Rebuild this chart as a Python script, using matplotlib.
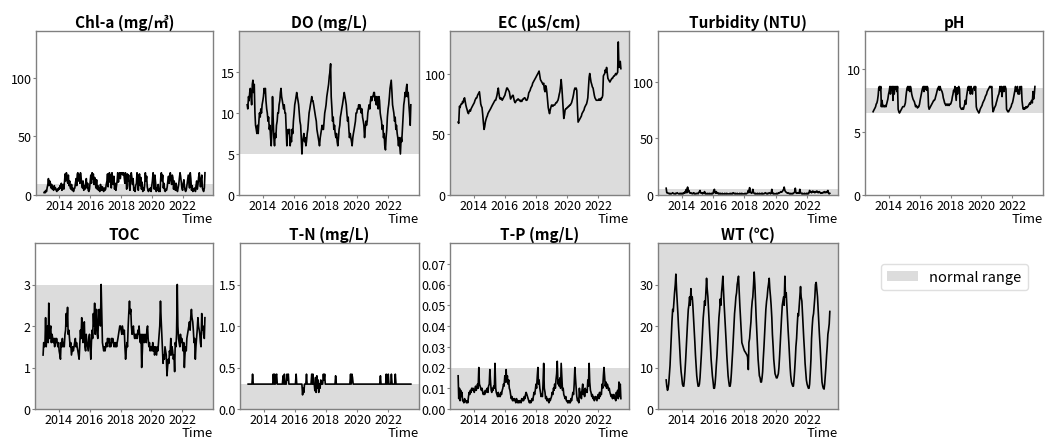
import numpy as np
import pandas as pd
import matplotlib
matplotlib.use("Agg")
import matplotlib.pyplot as plt
import matplotlib.dates as mdates
from matplotlib.patches import Patch
from matplotlib.ticker import FormatStrFormatter

plt.rcParams['font.family'] = ['Noto Sans CJK KR', 'DejaVu Sans']

START = '2013-01-01'  # semi-monthly samples (1st and 15th of each month)

chla = [
    2,3,2,4,3,6,9,14,8,12,10,6,9,5,7,4,8,5,6,4,3,5,4,6,
    5,8,6,10,4,7,9,5,11,18,12,19,15,10,17,8,12,6,5,9,4,6,3,5,
    6,10,14,8,18,19,12,17,10,19,14,9,6,12,4,8,5,10,14,6,10,4,3,5,
    12,17,10,19,14,18,9,15,11,6,13,5,8,4,6,3,9,5,4,7,5,3,6,4,
    5,9,12,18,7,15,19,11,17,6,19,13,9,16,5,10,4,8,12,19,11,17,19,14,
    19,18,19,17,19,16,10,19,14,5,18,12,17,8,4,12,19,15,9,14,4,6,3,8,
    10,19,16,4,12,18,8,15,5,11,3,6,4,8,19,12,16,7,4,3,5,4,6,3,
    8,12,19,14,5,17,10,3,6,4,9,3,5,3,15,19,12,17,6,10,4,3,5,4,
    7,12,16,10,14,19,13,9,17,15,5,12,8,4,10,5,3,6,9,14,19,16,11,6,
    4,10,13,7,4,3,5,9,13,17,10,6,19,14,4,8,3,5,4,6,3,8,12,5,
    9,15,19,12,7,13,17,6,4,3,6,19,
]

do = [
    11,10.5,12,11.5,12.5,13,12,11,13.5,14,12.5,13.5,10,8.5,8,7.5,8.5,7.5,9,10,9.5,10.5,10,11,
    11.5,12,13,12.5,13,11.5,10.5,10,9,9.5,8,8.5,7,6,8,12,9,7,6,7.5,7,8.5,9,10,
    10,11,11.5,12.5,13,12,11.5,11,10.5,11,10,10,8,6,7.5,8,7.5,8,6,7,6.5,8,7.5,9,
    10,11,11.5,12,12.5,12,11.5,11,10,9,8.5,7,5,6.5,7,7.5,6.5,7,6,6.5,7.5,8,9,10,
    10.5,11,11.5,12,11.5,11.5,11,10.5,10,9.5,9,8,7.5,7,6.5,6,7,7.5,8,8.5,8,8,9,10,
    10.5,11,12,12.5,13,13.5,14.5,15,16,12,10.5,9,9.5,8,8.5,7.5,7,7.5,6.5,6,7,8,8.5,9.5,
    10,10.5,11,11.5,12,12.5,12,11.5,11,10,9,9.5,8,7,7.5,7,6.5,6,7,7.5,8,8.5,9,10,
    10,10.5,10.5,11,10.5,11,10.5,10,10.5,9.5,9,8.5,7,8,9,8.5,9,10,10.5,11,10.5,11.5,12,11.5,
    12,12,12.5,12.5,11.5,12,11,12,11,10.5,12,11.5,10,9.5,9,8,8.5,7,7.5,6,5.5,7,8,9.5,
    10.5,11,12,13,13.5,14,12.5,11,10.5,10,9,9.5,8,8.5,7.5,7,6,7,6,5,7,6.5,8,9.5,
    11,11.5,12.5,12,13,13.5,12,12.5,11,10,8.5,11,
]

ec = [
    60,59,73,72,74,75,75,77,76,79,80,77,74,72,70,68,67,69,70,69,71,72,73,74,
    75,76,78,79,80,80,82,83,84,85,80,75,73,72,66,60,54,56,60,62,64,65,67,68,
    69,70,71,72,73,74,75,76,77,78,78,80,82,85,88,84,80,79,80,79,78,79,80,81,
    82,84,86,88,88,87,86,85,82,79,80,81,82,82,79,77,76,77,78,78,79,79,78,78,
    77,78,77,78,79,79,80,80,79,78,78,79,81,84,85,86,88,89,90,92,93,94,95,96,
    97,98,99,100,101,102,98,95,94,93,92,91,92,87,85,90,88,84,78,72,69,67,70,72,
    74,74,73,74,74,74,75,76,76,77,78,80,83,85,90,95,88,80,72,63,66,70,71,71,
    72,72,73,73,74,74,75,76,78,80,83,86,88,87,88,86,70,60,61,62,63,64,65,67,
    68,69,70,72,73,74,75,77,80,88,97,100,96,93,91,89,88,85,82,80,79,78,78,78,
    78,79,78,79,78,80,80,82,98,99,100,103,101,105,100,96,95,94,93,94,95,96,96,97,
    98,98,99,100,99,100,101,126,105,108,110,104,
]

turbidity = [
    6,2,2,1.5,1.5,1,1.5,1,1,1.5,2,1.5,1,1,1.5,1,1.5,2,1.5,1,1,1.5,1,1.5,
    1,1.5,1,2,1.5,3,2,5,2,7,3,4,2,1.5,2,1.5,1,1.5,2,1,1.5,1,1,1.5,
    1.5,1,2,3,4,2,1.5,2,1,2,1.5,3,1,1.5,1,1,1.5,1,1,1.5,1,1,1.5,1,
    1.5,4,5,2,1.5,3,1.5,2,1,1.5,1,1.5,1,1,1.5,1,1,1,1.5,1,1,1.5,1,1,
    1,1,1.5,1,1,1.5,1,2,1.5,1,1.5,1,1,1.5,1,1,1,1.5,1,1,1.5,1,1,1,
    1,1.5,1,1,1.5,2,4,2,6.5,3,2,1.5,2,5,2,1.5,1,1.5,1,1,1.5,1,1,1.5,
    1,1,1.5,1,1.5,1,1,1.5,2,1.5,1,1.5,1,1.5,2,1.5,1,1.5,5,2,1,1.5,1,1,
    1,1.5,1,1,2,1.5,2,2.5,3,2.5,3,4,5,7,4,3,2.5,2,1.5,2,1.5,1,1.5,1,
    1,1.5,1,1.5,2,2.5,6,2,1.5,2,1.5,2,1.5,5,2,1.5,1,1.5,1,1,1.5,1,1,1.5,
    1,1.5,1,2,4,2.5,3,2,3,3.5,2.5,3,2,3,2.5,3.5,3,2,2.5,3,2,1.5,2,1.5,
    2,2.5,2,3,2.5,2,3,2.5,4,1.5,1,1.5,
]

ph = [
    6.6,6.7,6.8,6.9,7.0,7.2,7.3,7.5,7.9,8.5,8.6,8.3,8.6,7.0,7.5,7.0,7.1,7.0,7.0,7.1,7.0,7.2,7.4,7.6,
    8.0,8.2,8.6,8.0,8.6,8.3,8.6,7.5,8.6,8.0,8.6,8.4,8.6,8.2,8.6,6.8,6.6,6.5,6.6,6.7,6.8,6.9,7.0,7.0,
    7.0,7.1,7.3,7.8,8.2,8.5,8.6,8.3,8.6,8.2,8.6,8.4,8.0,7.8,7.6,7.5,7.4,7.2,7.0,7.1,7.0,6.9,7.0,7.0,
    7.2,7.5,7.8,8.0,8.3,8.5,8.6,8.2,8.6,8.4,8.6,8.3,8.6,8.5,7.0,6.8,6.9,7.0,7.1,7.2,7.3,7.4,7.5,7.5,
    7.6,7.8,8.0,8.2,8.4,8.5,8.6,8.3,8.6,8.4,8.3,8.2,8.0,7.7,7.5,7.3,7.2,7.1,7.2,7.2,7.1,7.2,7.1,7.2,
    7.2,7.3,7.5,7.8,8.0,8.3,8.2,8.6,8.0,7.5,8.5,8.0,8.5,8.6,8.4,7.0,6.9,6.8,6.8,6.9,6.8,7.0,7.2,7.5,
    7.2,7.8,8.2,8.5,8.6,8.3,8.6,8.0,8.6,8.2,8.0,8.4,8.5,8.6,8.3,8.6,7.0,6.8,6.7,6.6,6.5,6.6,6.8,6.9,
    7.0,7.1,7.3,7.4,7.5,7.6,7.8,7.9,8.0,8.2,8.3,8.4,8.5,8.6,8.6,8.5,8.6,7.2,6.6,6.7,6.9,7.0,7.1,7.3,
    7.5,7.7,7.9,8.0,8.3,8.6,8.2,8.6,7.8,8.4,8.6,8.2,8.6,8.6,8.4,6.8,6.7,6.6,6.6,6.7,6.8,6.9,7.0,7.2,
    7.3,7.5,7.8,8.0,8.3,8.6,8.2,8.4,8.6,8.0,8.3,8.0,8.6,8.4,8.6,7.5,7.0,6.8,6.9,6.8,6.9,7.0,6.9,7.0,
    7.0,7.1,7.2,7.3,7.2,7.4,7.5,7.3,8.2,7.6,8.0,8.6,
]

toc = [
    1.3,1.6,1.5,1.6,2.2,1.5,1.8,2.0,1.6,2.55,1.7,1.9,2.0,1.6,1.8,1.7,1.6,1.7,1.5,1.7,1.6,1.7,1.6,1.5,
    1.6,1.4,1.3,1.2,1.6,1.5,1.7,1.5,1.6,1.5,1.8,1.9,2.3,2.0,2.45,1.8,1.9,1.7,1.5,1.6,1.3,1.4,1.5,1.4,
    1.5,1.6,1.7,1.5,1.6,1.5,1.4,1.3,1.2,1.5,1.9,1.7,2.2,1.8,1.6,2.0,2.1,1.5,1.4,1.8,1.6,1.5,1.4,1.7,
    1.8,1.5,1.2,1.6,1.9,1.7,2.3,2.0,2.55,1.8,2.1,2.4,1.8,1.7,2.2,2.4,2.3,2.0,3.0,2.4,1.6,1.5,1.4,1.5,
    1.4,1.5,1.6,1.5,1.7,1.6,1.7,1.5,1.6,1.5,1.7,1.6,1.7,1.6,1.5,1.6,1.5,1.6,1.5,1.6,1.7,1.8,1.9,2.0,
    2.0,1.9,1.8,2.0,1.9,1.8,1.9,1.5,1.2,1.4,1.6,1.5,2.0,2.3,2.6,2.3,2.4,2.0,1.8,1.9,2.0,1.8,1.7,1.8,
    1.7,1.8,1.7,1.9,1.8,2.0,1.7,1.6,1.8,1.0,1.4,1.8,1.7,1.6,1.8,1.7,1.6,1.9,2.0,1.7,1.5,1.6,1.4,1.5,
    1.5,1.4,1.6,1.4,1.5,1.3,1.5,1.4,1.3,1.5,1.4,1.6,1.8,2.0,2.6,2.2,1.8,1.5,1.1,1.3,1.2,1.5,1.4,1.3,
    0.8,1.0,1.2,1.1,1.4,1.3,1.7,1.3,1.5,1.4,1.2,1.3,0.9,1.6,1.5,1.8,3.0,2.0,1.7,1.6,1.5,1.8,1.6,1.7,
    1.6,1.4,1.6,1.0,1.3,1.5,1.4,1.7,1.8,1.9,2.0,2.1,1.9,2.2,2.4,2.2,2.1,1.9,1.6,1.7,1.2,1.5,1.7,1.9,
    2.2,2.0,1.9,1.8,1.6,1.5,2.3,1.9,2.0,1.8,1.7,2.2,
]

tn = [
    .3,.3,.3,.3,.3,.3,.3,.42,.3,.3,.3,.3,.3,.3,.3,.3,.3,.3,.3,.3,.3,.3,.3,.3,
    .3,.3,.3,.3,.3,.3,.3,.3,.3,.3,.3,.3,.3,.3,.3,.42,.3,.42,.3,.4,.42,.3,.3,.3,
    .3,.3,.3,.3,.3,.3,.4,.3,.42,.3,.3,.3,.42,.35,.42,.3,.3,.3,.3,.3,.3,.3,.3,.3,
    .3,.3,.42,.3,.3,.3,.3,.3,.3,.3,.3,.3,.17,.25,.2,.3,.3,.3,.42,.3,.3,.3,.3,.3,
    .3,.3,.42,.3,.42,.3,.3,.22,.38,.2,.4,.25,.35,.2,.3,.25,.35,.3,.3,.3,.42,.35,.42,.3,
    .3,.3,.3,.3,.3,.3,.3,.3,.3,.3,.3,.3,.3,.3,.3,.4,.3,.3,.3,.3,.3,.3,.3,.3,
    .3,.3,.3,.3,.3,.3,.3,.3,.3,.3,.3,.3,.3,.3,.42,.3,.42,.38,.3,.3,.3,.3,.3,.3,
    .3,.3,.3,.3,.3,.3,.3,.3,.3,.3,.3,.3,.3,.3,.3,.3,.3,.3,.3,.3,.3,.3,.3,.3,
    .3,.3,.3,.3,.3,.3,.3,.3,.3,.3,.3,.3,.4,.3,.3,.3,.3,.3,.3,.3,.3,.42,.3,.3,
    .42,.3,.3,.3,.3,.42,.3,.3,.3,.3,.3,.42,.3,.3,.3,.3,.3,.3,.3,.3,.3,.3,.3,.3,
    .3,.3,.3,.3,.3,.3,.3,.3,.3,.3,.3,.3,
]

tp = [
    .016,.005,.010,.004,.009,.006,.008,.004,.004,.003,.005,.004,.004,.003,.004,.003,.006,.008,.007,.009,.008,.010,.009,.010,
    .009,.008,.010,.011,.009,.010,.012,.010,.020,.012,.011,.010,.009,.010,.008,.007,.008,.007,.009,.008,.009,.010,.008,.011,
    .012,.019,.013,.009,.008,.010,.009,.011,.010,.022,.010,.008,.007,.006,.008,.006,.007,.006,.008,.007,.009,.010,.012,.011,
    .016,.013,.019,.013,.016,.012,.014,.010,.009,.007,.005,.006,.004,.005,.004,.005,.004,.003,.005,.004,.003,.004,.003,.004,
    .004,.003,.005,.004,.005,.004,.006,.005,.007,.008,.007,.006,.005,.004,.003,.004,.003,.004,.005,.004,.006,.008,.007,.009,
    .012,.010,.016,.020,.012,.014,.010,.008,.006,.007,.006,.012,.022,.010,.008,.005,.006,.004,.005,.004,.003,.005,.004,.005,
    .006,.008,.007,.010,.009,.012,.010,.014,.017,.023,.012,.014,.011,.015,.010,.022,.015,.009,.010,.007,.006,.005,.006,.004,
    .004,.003,.004,.003,.004,.003,.005,.004,.006,.008,.007,.012,.020,.015,.010,.006,.004,.005,.003,.010,.006,.008,.005,.009,
    .012,.007,.009,.006,.010,.008,.009,.008,.014,.011,.022,.013,.009,.008,.006,.007,.005,.006,.004,.005,.006,.005,.004,.006,
    .007,.005,.008,.006,.008,.007,.012,.010,.016,.020,.015,.011,.013,.010,.012,.011,.009,.010,.008,.007,.006,.007,.005,.006,
    .007,.005,.006,.004,.008,.006,.009,.005,.013,.006,.012,.005,
]

wt = [
    7,5.5,4.5,5,6,8,10.5,14,18,21,24,23.5,26,28,30,32.5,28.5,26,23,20,17,14,11,9,
    7.5,6,5.5,5.5,7,9,12,15,18,21,24,25,27,25,29,26.5,27,25,22,19,16,13,10.5,8,
    6.5,5.5,5.5,6,7.5,10,13,16,19,22,24,26,25,28,31.5,29,27,24,21,18,15,12,10,8,
    6.5,5,5,6,8,10.5,13,16,19,22,24,26.5,25,28,30,32,28,25,22,19,16,13,10.5,8,
    6.5,5.5,5.5,6.5,8.5,11,14,17,20,23,25,27,28,30,31,32,28,25,22,19,16,15.5,15,14.5,
    14,13.8,13.5,13.2,13,12.5,9.5,16,17,19,21,24,26,27,30,33,30,26,22,19,15,12,10,8,
    7.5,6.5,6.5,7.5,9,12,15,18,21,24,26,27,29,30,31.5,29,27,25,22,18,15,12,10,8.5,
    8,7.5,7.5,8,8.5,10,13,16,19,22,25,26,27,25,32,27,28,25,22,19,16,13,10,8,
    6.5,6,5.5,5.5,7,9,12,15,17,20,23,22.5,25,27,29.5,27,26,23,20,17,14,11,9,7,
    6,5.5,5,5,6,8.5,12,17,20,22,23,25,27,30,30.5,29,27,24,21,18,15,12,9,6.5,
    5.5,5,4.8,6,8,10,13,15,18,19,20.5,23.5,
]

titles = ['Chl-a (mg/㎥)', 'DO (mg/L)', 'EC (µS/cm)', 'Turbidity (NTU)', 'pH',
          'TOC', 'T-N (mg/L)', 'T-P (mg/L)', 'WT (℃)']
series = [chla, do, ec, turbidity, ph, toc, tn, tp, wt]
ylims = [140, 20, 135, 145, 13, 4, 2, 0.08, 40]
bands = [(0, 9), (5, 20), (0, 135), (0, 5), (6.5, 8.5), (0, 3), (0, 0.3), (0, 0.02), (0, 40)]
yticks = [[0, 50, 100], [0, 5, 10, 15], [0, 50, 100], [0, 50, 100], [0, 5, 10],
          [0, 1, 2, 3], [0, 0.5, 1.0, 1.5], [0, .01, .02, .03, .04, .05, .06, .07], [0, 10, 20, 30]]
yfmts = ['%d', '%d', '%d', '%d', '%d', '%d', '%.1f', '%.2f', '%d']

W, H = 1056, 439
# axes boxes in pixels: left, top, right, bottom
boxes = [(36, 32, 213, 196), (239, 32, 419, 196), (450, 32, 629, 196), (658, 32, 838, 196),
         (865, 32, 1043, 196),
         (35, 244, 213, 410), (240, 244, 419, 410), (450, 244, 629, 410), (658, 244, 838, 410)]

band_color = '#dcdcdc'
spine_color = '#808080'

fig = plt.figure(figsize=(W / 100, H / 100), dpi=100)
for title, vals, ytop, band, yt, yf, (l, t, r, b) in zip(titles, series, ylims, bands, yticks, yfmts, boxes):
    ax = fig.add_axes([l / W, 1 - b / H, (r - l) / W, (b - t) / H])
    dates = pd.date_range(START, periods=len(vals), freq='SMS')
    ax.axhspan(band[0], band[1], color=band_color, lw=0, zorder=0)
    ax.plot(dates, vals, color='black', lw=1.2, zorder=2)
    ax.set_ylim(0, ytop)
    ax.set_yticks(yt)
    ax.yaxis.set_major_formatter(FormatStrFormatter(yf))
    ax.xaxis.set_major_locator(mdates.YearLocator(2))
    ax.xaxis.set_major_formatter(mdates.DateFormatter('%Y'))
    ax.set_title(title, fontsize=11, fontweight='bold', pad=3)
    ax.set_xlabel('Time', loc='right', fontsize=9.5, labelpad=0)
    ax.tick_params(labelsize=9, length=2, width=0.8, color=spine_color, pad=1)
    for s in ax.spines.values():
        s.set_color(spine_color)
        s.set_linewidth(1.0)

fig.legend(handles=[Patch(facecolor=band_color, edgecolor='none', label='normal range')],
           loc='upper left', bbox_to_anchor=(874 / W, 1 - 258 / H), fontsize=10.5,
           handlelength=2.1, frameon=True, edgecolor='#d8d8d8', fancybox=True)

fig.savefig('out.png', dpi=100)
